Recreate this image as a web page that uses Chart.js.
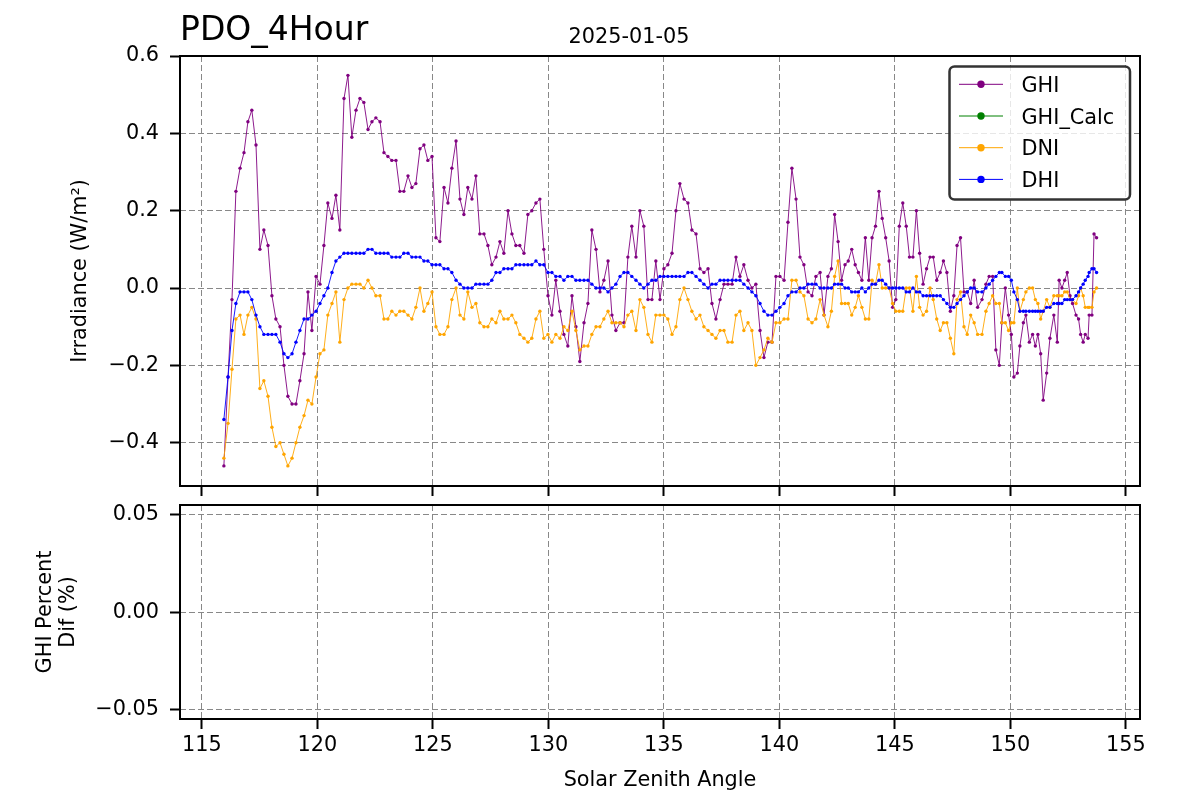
<!DOCTYPE html>
<html>
<head>
<meta charset="utf-8">
<title>PDO_4Hour</title>
<script src="https://cdn.jsdelivr.net/npm/chart.js@4.4.1/dist/chart.umd.min.js"></script>
<style>
  body { margin: 0; background: #fff; }
  #wrap { position: relative; width: 1200px; height: 800px; }
  #wrap canvas { position: absolute; left: 0; top: 0; }
</style>
</head>
<body>
<div id="wrap">
  <canvas id="topChart" width="1200" height="800"></canvas>
  <canvas id="botChart" width="1200" height="800"></canvas>
</div>
<script>
// solar zenith angle of each sample (deg)
var zenith = [
  115.95, 116.13, 116.30, 116.47, 116.65, 116.82, 116.99, 117.16, 117.34, 117.51,
  117.68, 117.86, 118.03, 118.20, 118.38, 118.55, 118.72, 118.90, 119.07, 119.24,
  119.42, 119.59, 119.76, 119.94, 120.11, 120.28, 120.45, 120.63, 120.80, 120.97,
  121.15, 121.32, 121.49, 121.67,
  121.84, 122.01, 122.19, 122.36, 122.53, 122.71, 122.88, 123.05, 123.22, 123.40,
  123.57, 123.74, 123.92, 124.09, 124.26, 124.44, 124.61, 124.78, 124.96, 125.13,
  125.30, 125.48, 125.65, 125.82, 126.00, 126.17, 126.34, 126.51, 126.69, 126.86,
  127.03, 127.21, 127.38, 127.55, 127.73, 127.90, 128.07, 128.25, 128.42,
  128.59, 128.76, 128.94, 129.11, 129.28, 129.46, 129.63, 129.80, 129.98, 130.15,
  130.32, 130.50, 130.67, 130.84, 131.02, 131.19, 131.36, 131.54, 131.71, 131.88,
  132.06, 132.23, 132.40, 132.58, 132.75, 132.92, 133.10, 133.27, 133.44, 133.61,
  133.79, 133.96, 134.13, 134.31, 134.48, 134.65, 134.83, 135.00, 135.17,
  135.35, 135.52, 135.69, 135.87, 136.04, 136.21, 136.39, 136.56, 136.73, 136.91,
  137.08, 137.25, 137.43, 137.60, 137.77, 137.95, 138.12, 138.29, 138.46, 138.64,
  138.81, 138.98, 139.16, 139.33, 139.50, 139.68, 139.85, 140.02, 140.20, 140.37,
  140.54, 140.72, 140.89, 141.06, 141.24, 141.41, 141.58, 141.76, 141.93,
  142.10, 142.25, 142.39, 142.54, 142.69, 142.84, 142.98, 143.13, 143.28, 143.42,
  143.57, 143.72, 143.87, 144.01, 144.16, 144.31, 144.45, 144.60, 144.75, 144.90,
  145.04, 145.19, 145.34, 145.49, 145.63, 145.78, 145.93, 146.07, 146.22, 146.37,
  146.52, 146.66, 146.81, 146.96, 147.10, 147.25, 147.40, 147.55, 147.69, 147.84,
  147.99, 148.13, 148.28, 148.43, 148.58,
  148.77, 148.94, 149.08, 149.23, 149.37, 149.52, 149.63, 149.78, 149.92, 150.04,
  150.15, 150.30, 150.41, 150.56, 150.67, 150.82, 150.96, 151.08, 151.19, 151.31,
  151.42, 151.57, 151.71, 151.88, 152.03, 152.11, 152.23, 152.35, 152.46, 152.58,
  152.69, 152.84, 152.95, 153.04, 153.15, 153.24, 153.36, 153.41, 153.53, 153.62,
  153.73
];

var ghi = [
  -0.46, -0.23, -0.03, 0.25, 0.31, 0.35, 0.43, 0.46, 0.37, 0.10,
  0.15, 0.11, -0.02, -0.08, -0.10, -0.20, -0.28, -0.30, -0.30, -0.24,
  -0.17, -0.01, -0.11, 0.03, 0.01, 0.11, 0.22, 0.18, 0.24, 0.15,
  0.49, 0.55, 0.39, 0.46,
  0.49, 0.48, 0.41, 0.43, 0.44, 0.43, 0.35, 0.34, 0.33, 0.33,
  0.25, 0.25, 0.29, 0.26, 0.27, 0.36, 0.37, 0.33, 0.34, 0.13,
  0.12, 0.26, 0.22, 0.31, 0.38, 0.23, 0.19, 0.26, 0.23, 0.29,
  0.14, 0.14, 0.11, 0.06, 0.08, 0.12, 0.09, 0.20, 0.14,
  0.11, 0.11, 0.09, 0.19, 0.20, 0.22, 0.23, 0.10, -0.02, -0.07,
  0.02, -0.06, -0.12, -0.15, -0.02, -0.10, -0.19, -0.09, -0.04, 0.15,
  0.10, -0.01, 0.02, 0.07, -0.07, -0.11, -0.09, -0.09, 0.08, 0.16,
  0.08, 0.20, 0.16, -0.03, -0.03, 0.07, -0.03, 0.05, 0.06,
  0.09, 0.20, 0.27, 0.23, 0.22, 0.15, 0.14, 0.05, 0.04, 0.05,
  -0.04, -0.08, -0.03, 0.01, 0.01, 0.01, 0.08, 0.03, 0.06, 0.02,
  0.00, 0.01, -0.11, -0.18, -0.14, -0.14, 0.03, 0.03, 0.02, 0.17,
  0.31, 0.23, 0.08, 0.06, -0.01, -0.02, 0.03, 0.04, -0.07,
  0.03, 0.05, 0.19, 0.12, 0.02, 0.06, 0.07, 0.10, 0.06, 0.04,
  0.02, 0.13, 0.02, 0.13, 0.16, 0.25, 0.18, 0.13, 0.07, -0.05,
  -0.03, 0.16, 0.22, 0.16, 0.08, 0.08, 0.20, 0.09, 0.01, 0.05,
  0.08, 0.08, 0.02, 0.04, 0.07, 0.04, -0.06, -0.02, 0.11, 0.13,
  -0.01, -0.01, -0.04, 0.02, -0.05,
  -0.03, 0.01, 0.03, 0.03, -0.16, -0.20, -0.09, 0.00, -0.07, -0.12,
  -0.23, -0.22, -0.15, -0.09, -0.07, -0.14, -0.12, -0.15, -0.12, -0.17,
  -0.29, -0.22, -0.13, -0.07, -0.14, 0.02, 0.00, 0.02, 0.04, -0.02,
  -0.04, -0.07, -0.08, -0.12, -0.14, -0.12, -0.13, -0.07, -0.07, 0.14,
  0.13
];

var ghiCalc = [];

var dni = [
  -0.44, -0.35, -0.21, -0.08, -0.07, -0.12, -0.07, -0.05, -0.08, -0.26,
  -0.24, -0.28, -0.36, -0.41, -0.40, -0.43, -0.46, -0.44, -0.40, -0.36,
  -0.33, -0.29, -0.30, -0.23, -0.17, -0.16, -0.07, -0.04, -0.01, -0.14,
  -0.03, 0.00, 0.01, 0.01,
  0.01, 0.00, 0.02, 0.00, -0.02, -0.02, -0.08, -0.08, -0.06, -0.07,
  -0.06, -0.06, -0.07, -0.08, -0.05, 0.00, -0.06, -0.04, -0.01, -0.10,
  -0.12, -0.12, -0.10, -0.03, 0.00, -0.07, -0.08, -0.01, -0.05, -0.04,
  -0.09, -0.10, -0.10, -0.08, -0.09, -0.06, -0.08, -0.08, -0.07,
  -0.09, -0.12, -0.13, -0.14, -0.13, -0.08, -0.06, -0.13, -0.12, -0.14,
  -0.12, -0.13, -0.10, -0.11, -0.06, -0.11, -0.16, -0.15, -0.15, -0.12,
  -0.10, -0.10, -0.08, -0.06, -0.09, -0.09, -0.09, -0.10, -0.07, -0.06,
  -0.11, -0.03, -0.05, -0.12, -0.14, -0.07, -0.07, -0.07, -0.08,
  -0.12, -0.10, -0.03, 0.00, -0.03, -0.06, -0.08, -0.07, -0.10, -0.11,
  -0.12, -0.13, -0.11, -0.11, -0.14, -0.14, -0.07, -0.06, -0.11, -0.09,
  -0.11, -0.20, -0.18, -0.16, -0.13, -0.14, -0.09, -0.09, -0.08, -0.08,
  0.02, 0.02, -0.01, -0.02, -0.08, -0.09, -0.08, -0.03, -0.07,
  -0.10, -0.06, 0.03, 0.07, -0.04, -0.04, -0.04, -0.07, -0.05, -0.02,
  -0.05, -0.08, -0.08, 0.02, 0.01, 0.06, 0.00, 0.00, 0.00, -0.04,
  -0.06, -0.06, -0.06, 0.00, 0.00, -0.06, 0.03, -0.05, -0.07, -0.06,
  0.00, -0.03, -0.08, -0.11, -0.09, -0.09, -0.13, -0.17, -0.03, -0.01,
  -0.10, -0.12, -0.07, -0.09, -0.12,
  -0.12, -0.06, -0.04, -0.02, -0.04, -0.04, -0.09, -0.09, -0.11, -0.09,
  -0.09, 0.00, -0.06, -0.03, -0.01, 0.00, 0.00, -0.03, -0.04, -0.08,
  -0.06, -0.03, -0.05, -0.02, -0.02, -0.02, -0.02, -0.01, -0.01, -0.03,
  -0.03, -0.04, -0.02, 0.00, -0.02, -0.05, -0.05, -0.05, -0.05, -0.01,
  0.00
];

var dhi = [
  -0.34, -0.23, -0.11, -0.04, -0.01, -0.01, -0.01, -0.03, -0.07, -0.10,
  -0.12, -0.12, -0.12, -0.12, -0.14, -0.17, -0.18, -0.17, -0.14, -0.11,
  -0.08, -0.08, -0.07, -0.06, -0.04, -0.02, 0.00, 0.04, 0.07, 0.08,
  0.09, 0.09, 0.09, 0.09,
  0.09, 0.09, 0.10, 0.10, 0.09, 0.09, 0.09, 0.09, 0.08, 0.08,
  0.08, 0.09, 0.09, 0.08, 0.08, 0.08, 0.07, 0.07, 0.06, 0.06,
  0.06, 0.05, 0.05, 0.04, 0.02, 0.01, 0.00, 0.00, 0.00, 0.01,
  0.01, 0.01, 0.01, 0.02, 0.04, 0.04, 0.05, 0.05, 0.05,
  0.06, 0.06, 0.06, 0.06, 0.06, 0.07, 0.06, 0.06, 0.04, 0.04,
  0.03, 0.03, 0.02, 0.03, 0.03, 0.02, 0.02, 0.02, 0.02, 0.01,
  0.00, 0.00, 0.00, -0.01, 0.00, 0.01, 0.03, 0.04, 0.04, 0.03,
  0.02, 0.01, 0.00, 0.01, 0.02, 0.02, 0.03, 0.03, 0.03,
  0.03, 0.03, 0.03, 0.03, 0.04, 0.04, 0.03, 0.02, 0.01, 0.00,
  0.01, 0.01, 0.02, 0.02, 0.02, 0.02, 0.02, 0.02, 0.01, 0.00,
  -0.01, -0.02, -0.04, -0.06, -0.07, -0.07, -0.06, -0.05, -0.04, -0.02,
  -0.01, -0.01, 0.00, 0.00, 0.01, 0.01, 0.01, 0.00, 0.00,
  0.00, 0.00, 0.01, 0.01, 0.01, 0.00, 0.00, -0.01, -0.01, -0.01,
  0.00, -0.01, 0.00, 0.01, 0.01, 0.02, 0.02, 0.01, 0.00, 0.00,
  0.00, 0.00, 0.00, -0.01, -0.01, 0.00, -0.01, -0.01, -0.02, -0.02,
  -0.02, -0.02, -0.02, -0.02, -0.03, -0.04, -0.05, -0.05, -0.04, -0.03,
  -0.02, -0.01, 0.00, 0.00, -0.01,
  -0.01, 0.00, 0.01, 0.02, 0.03, 0.04, 0.04, 0.03, 0.03, 0.02,
  -0.01, -0.03, -0.06, -0.06, -0.06, -0.06, -0.06, -0.06, -0.06, -0.06,
  -0.06, -0.05, -0.05, -0.04, -0.04, -0.04, -0.04, -0.03, -0.03, -0.03,
  -0.03, -0.02, -0.01, 0.00, 0.01, 0.02, 0.03, 0.04, 0.05, 0.05,
  0.04
];

var ghiDif = [];

var xTicks = [115, 120, 125, 130, 135, 140, 145, 150, 155];
var xTickLabels = ['115', '120', '125', '130', '135', '140', '145', '150', '155'];
var irrTicks = [-0.4, -0.2, 0, 0.2, 0.4, 0.6];
var irrTickLabels = ['\u22120.4', '\u22120.2', '0.0', '0.2', '0.4', '0.6'];
var difTicks = [-0.05, 0, 0.05];
var difTickLabels = ['\u22120.05', '0.00', '0.05'];

var FONT = "'DejaVu Sans', sans-serif";
Chart.defaults.font.family = FONT;
Chart.defaults.font.size = 20.8;
Chart.defaults.color = '#000';

function toPts(ys) {
  return ys.map(function (y, i) { return { x: zenith[i], y: y }; });
}

function series(label, ys, color, order) {
  return {
    label: label,
    data: toPts(ys),
    order: order,
    showLine: true,
    borderColor: color,
    backgroundColor: color,
    borderWidth: 0.9,
    pointRadius: 1.7,
    pointHoverRadius: 1.7,
    pointBorderWidth: 0,
    pointBackgroundColor: color
  };
}

var gridOpts = {
  color: '#888',
  lineWidth: 1,
  tickLength: 10,
  tickWidth: 2,
  tickColor: '#000',
  tickBorderDash: []
};
var borderOpts = { display: false, dash: [6, 3] };

// black box round each plot
var frame = {
  id: 'frame',
  afterDraw: function (chart) {
    var a = chart.chartArea, ctx = chart.ctx;
    ctx.save();
    ctx.strokeStyle = '#000';
    ctx.lineWidth = 2;
    ctx.strokeRect(a.left, a.top, a.right - a.left, a.bottom - a.top);
    ctx.restore();
  }
};

// matplotlib style legend, top right of the upper plot
var legendBox = {
  id: 'legendBox',
  afterDraw: function (chart) {
    var ctx = chart.ctx;
    var x0 = 949.5, y0 = 66.5, w = 180.5, h = 133, r = 5;
    ctx.save();
    ctx.beginPath();
    ctx.moveTo(x0 + r, y0);
    ctx.arcTo(x0 + w, y0, x0 + w, y0 + h, r);
    ctx.arcTo(x0 + w, y0 + h, x0, y0 + h, r);
    ctx.arcTo(x0, y0 + h, x0, y0, r);
    ctx.arcTo(x0, y0, x0 + w, y0, r);
    ctx.closePath();
    ctx.fillStyle = 'rgba(255,255,255,0.8)';
    ctx.fill();
    ctx.strokeStyle = '#333';
    ctx.lineWidth = 2.5;
    ctx.stroke();

    ctx.font = '20.8px ' + FONT;
    ctx.textBaseline = 'alphabetic';
    ctx.textAlign = 'left';
    chart.data.datasets.forEach(function (ds, i) {
      var y = 84.3 + i * 31.7;
      ctx.strokeStyle = ds.borderColor;
      ctx.lineWidth = 1;
      ctx.beginPath();
      ctx.moveTo(959, y);
      ctx.lineTo(1003, y);
      ctx.stroke();
      ctx.fillStyle = ds.borderColor;
      ctx.beginPath();
      ctx.arc(981, y, 3.7, 0, Math.PI * 2);
      ctx.fill();
      ctx.fillStyle = '#000';
      ctx.fillText(ds.label, 1021.5, y + 7.6);
    });
    ctx.restore();
  }
};

var titles = {
  id: 'titles',
  afterDraw: function (chart) {
    var ctx = chart.ctx;
    ctx.save();
    ctx.fillStyle = '#000';
    ctx.textBaseline = 'alphabetic';
    ctx.font = '33px ' + FONT;
    ctx.textAlign = 'left';
    ctx.fillText('PDO_4Hour', 180, 39.5);
    ctx.font = '20.8px ' + FONT;
    ctx.textAlign = 'center';
    ctx.fillText('2025-01-05', 629, 43.3);
    ctx.restore();
  }
};

new Chart(document.getElementById('topChart'), {
  type: 'scatter',
  data: {
    datasets: [
      series('GHI', ghi, '#800080', 4),
      series('GHI_Calc', ghiCalc, '#008000', 3),
      series('DNI', dni, '#ffa500', 2),
      series('DHI', dhi, '#0000ff', 1)
    ]
  },
  options: {
    responsive: false,
    animation: false,
    devicePixelRatio: 1,
    layout: { autoPadding: false, padding: { top: 56, right: 60, bottom: 0, left: 0 } },
    plugins: { legend: { display: false }, tooltip: { enabled: false } },
    scales: {
      x: {
        type: 'linear',
        bounds: 'data',
        min: 114.05,
        max: 155.61,
        afterFit: function (s) { s.height = 314; },
        afterBuildTicks: function (s) { s.ticks = xTicks.map(function (v) { return { value: v }; }); },
        ticks: { display: false },
        grid: gridOpts,
        border: borderOpts
      },
      y: {
        type: 'linear',
        bounds: 'data',
        min: -0.512,
        max: 0.6,
        afterFit: function (s) { s.width = 180; },
        afterBuildTicks: function (s) { s.ticks = irrTicks.map(function (v) { return { value: v }; }); },
        ticks: { padding: 11, callback: function (v, i) { return irrTickLabels[i]; } },
        title: { display: true, text: 'Irradiance (W/m\u00b2)', padding: { top: 68, bottom: 0 } },
        grid: gridOpts,
        border: borderOpts
      }
    }
  },
  plugins: [frame, legendBox, titles]
});

new Chart(document.getElementById('botChart'), {
  type: 'scatter',
  data: {
    datasets: [series('GHI Percent Dif', ghiDif, '#800080', 1)]
  },
  options: {
    responsive: false,
    animation: false,
    devicePixelRatio: 1,
    layout: { autoPadding: false, padding: { top: 505, right: 60, bottom: 0, left: 0 } },
    plugins: { legend: { display: false }, tooltip: { enabled: false } },
    scales: {
      x: {
        type: 'linear',
        bounds: 'data',
        min: 114.05,
        max: 155.61,
        afterFit: function (s) { s.height = 81; },
        afterBuildTicks: function (s) { s.ticks = xTicks.map(function (v) { return { value: v }; }); },
        ticks: { padding: 4, maxRotation: 0, autoSkip: false, callback: function (v, i) { return xTickLabels[i]; } },
        title: { display: true, text: 'Solar Zenith Angle', padding: { top: 0, bottom: 6.7 } },
        grid: gridOpts,
        border: borderOpts
      },
      y: {
        type: 'linear',
        bounds: 'data',
        min: -0.0548,
        max: 0.0551,
        afterFit: function (s) { s.width = 180; },
        afterBuildTicks: function (s) { s.ticks = difTicks.map(function (v) { return { value: v }; }); },
        ticks: { padding: 11, callback: function (v, i) { return difTickLabels[i]; } },
        title: {
          display: true,
          text: ['GHI Percent', 'Dif (%)'],
          font: { lineHeight: 1.1 },
          padding: { top: 34, bottom: 0 }
        },
        grid: gridOpts,
        border: borderOpts
      }
    }
  },
  plugins: [frame]
});
</script>
</body>
</html>
